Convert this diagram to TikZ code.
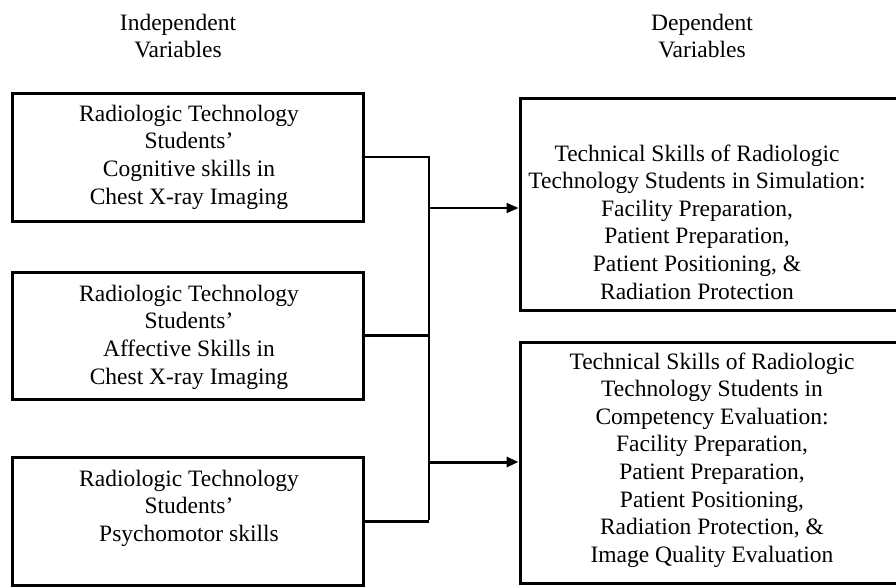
\documentclass[tikz,border=0pt]{standalone}
\usepackage{fontspec}
\setmainfont{Liberation Serif}
\usetikzlibrary{arrows.meta}
\begin{document}
\begin{tikzpicture}[x=1pt,y=-1pt,
  boxstyle/.style={draw=black, line width=3pt, rectangle, inner sep=0pt},
  txt/.style={align=center, inner sep=0pt, font=\fontsize{23.5}{27.6}\selectfont},
  conn/.style={draw=black, line width=2pt},
  connb/.style={draw=black, line width=3pt},
  arr/.style={-{Triangle[length=12pt,width=10pt]}}
]
\useasboundingbox (0,0) rectangle (896,586);
\clip (0,0) rectangle (896,586);

% headings
\node[txt] (hind) at (178,36) {Independent\\Variables};
\node[txt] (hdep) at (702,36) {Dependent\\Variables};

% left boxes
\node[boxstyle, minimum width=351pt, minimum height=128pt] (b1) at (187.5,157) {};
\node[txt] (t1) at (189,157) {Radiologic Technology\\Students'\\Cognitive skills in\\Chest X-ray Imaging};

\node[boxstyle, minimum width=351pt, minimum height=127pt] (b2) at (187.5,335.5) {};
\node[txt] (t2) at (189,337) {Radiologic Technology\\Students'\\Affective Skills in\\Chest X-ray Imaging};

\node[boxstyle, minimum width=351pt, minimum height=128pt] (b3) at (187.5,521) {};
\node[txt] (t3) at (189,508) {Radiologic Technology\\Students'\\Psychomotor skills};

% right boxes
\node[boxstyle, minimum width=390pt, minimum height=212pt] (d1) at (715,204) {};
\node[txt] (u1) at (697,222) {Technical Skills of Radiologic\\Technology Students in Simulation:\\Facility Preparation,\\Patient Preparation,\\Patient Positioning, \&\\Radiation Protection};

\node[boxstyle, minimum width=390pt, minimum height=241pt] (d2) at (715,462.5) {};
\node[txt] (u2) at (712,460) {Technical Skills of Radiologic\\Technology Students in\\Competency Evaluation:\\Facility Preparation,\\Patient Preparation,\\Patient Positioning,\\Radiation Protection, \&\\Image Quality Evaluation};

% connector junctions
\coordinate (top) at (429,157);
\coordinate (bot) at (429,520);
\coordinate (j1) at (429,208);
\coordinate (j2) at (429,462);

\draw[conn] (b1.east) -- (top) -- (bot);
\draw[connb] (b2.east) -- (b2.east -| top);
\draw[connb] (b3.east) -- (b3.east -| top);
\draw[conn, arr] (j1) -- (j1 -| d1.west);
\draw[connb, arr] (j2) -- (j2 -| d2.west);
\end{tikzpicture}
\end{document}
